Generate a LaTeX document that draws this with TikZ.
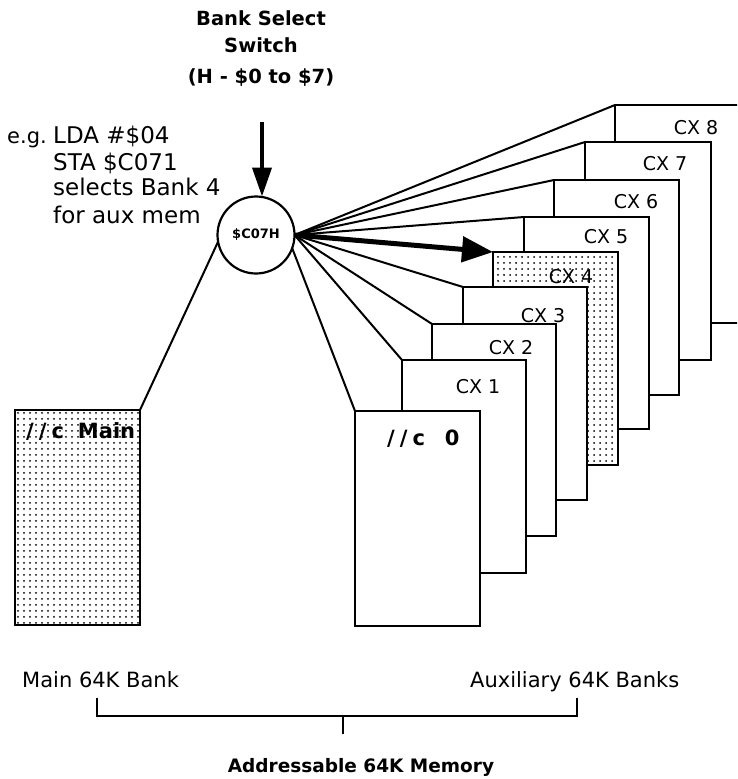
\documentclass[tikz,border=0pt]{standalone}
\usepackage{fontspec}
\setmainfont{DejaVu Sans}
\newfontfamily\chic{DejaVu Sans}
\usetikzlibrary{arrows.meta,patterns.meta,calc}
\begin{document}
\begin{tikzpicture}[x=1pt,y=-1pt,
  page/.style={draw, line width=2.5pt, fill=white, anchor=north west, inner sep=0pt, outer sep=0pt},
  dotpage/.style={draw, line width=2.5pt, preaction={fill=white}, pattern={Dots[distance=6pt,radius=1pt]}, anchor=north west, inner sep=0pt, outer sep=0pt},
  cxlab/.style={font=\fontsize{19}{19}\selectfont, inner sep=0pt, anchor=center},
  bigtitle/.style={font=\chic\bfseries\fontsize{19.5}{19.5}\selectfont, inner sep=0pt, anchor=base},
  boxtitle/.style={font=\chic\bfseries\fontsize{21}{21}\selectfont, inner sep=0pt, anchor=base west},
  note/.style={font=\fontsize{23}{23}\selectfont, inner sep=0pt, anchor=base west},
  banklab/.style={font=\fontsize{21}{21}\selectfont, inner sep=0pt, anchor=base west},
  fan/.style={line width=2pt},
  bigarrow/.style={line width=5pt, -{Triangle[length=31pt,width=25pt]}},
  toparrow/.style={line width=4pt, -{Triangle[length=29pt,width=19pt]}},
  bracket/.style={line width=2.2pt}]
\useasboundingbox (0,0) rectangle (737,779);
\clip (0,0) rectangle (737,779);

% title
\node[bigtitle] (t1) at (261,25) {Bank Select};
\node[bigtitle] (t2) at (261,52) {Switch};
\node[bigtitle] (t3) at (261,83) {(H - \$0 to \$7)};

% example text
\node[note, font=\fontsize{21}{21}\selectfont] (eg) at (7,143) {e.g.};
\node[note] (n1) at (53,143) {LDA \#\$04};
\node[note] (n2) at (53,170) {STA \$C071};
\node[note] (n3) at (53,195) {selects Bank 4};
\node[note] (n4) at (53,223) {for aux mem};

% switch
\node[circle, draw, line width=2.2pt, minimum size=77pt, inner sep=0pt, outer sep=0pt,
      font=\chic\bfseries\fontsize{13}{13}\selectfont] (sw) at (256,235) {\$C07H};
\coordinate (atop) at (262,122);
\draw[toparrow] (atop) -- (atop |- sw.north);

% pages (back to front)
\node[page, minimum width=126pt, minimum height=218pt] (cx8) at (615,105) {};
\node[page, minimum width=126pt, minimum height=218pt] (cx7) at (585,142) {};
\node[page, minimum width=125pt, minimum height=215pt] (cx6) at (554,180) {};
\node[page, minimum width=125pt, minimum height=212pt] (cx5) at (524,217) {};
\node[dotpage, minimum width=125pt, minimum height=213pt] (cx4) at (493,252) {};
\node[page, minimum width=124pt, minimum height=213pt] (cx3) at (463,287) {};
\node[page, minimum width=124pt, minimum height=212pt] (cx2) at (432,324) {};
\node[page, minimum width=124pt, minimum height=213pt] (cx1) at (402,360) {};
\node[page, minimum width=125pt, minimum height=215pt] (cx0) at (355,411) {};
\node[dotpage, minimum width=125pt, minimum height=215pt] (main) at (15,410) {};

% labels
\node[cxlab] (l8) at (696,128) {CX 8};
\node[cxlab] (l7) at (665,164) {CX 7};
\node[cxlab] (l6) at (636,202) {CX 6};
\node[cxlab] (l5) at (606,237) {CX 5};
\node[cxlab] (l4) at (571,277) {CX 4};
\node[cxlab] (l3) at (543,316) {CX 3};
\node[cxlab] (l2) at (511,348) {CX 2};
\node[cxlab] (l1) at (478,387) {CX 1};
\node[boxtitle] (l0) at (387,445) {/\kern5pt/\kern5pt c\kern20pt 0};
\node[boxtitle] (lm) at (26,438) {/\kern5pt/\kern5pt c\kern14pt Main};

% fan connectors
\draw[fan] (sw.190) -- (main.north east);
\draw[fan] (sw.-20) -- (cx0.north west);
\foreach \b in {cx1,cx2,cx3,cx5,cx6,cx7,cx8}
  \draw[fan] (sw.east) -- (\b.north west);
\draw[bigarrow] (sw.east) -- (cx4.north west);

% bottom labels and bracket
\node[banklab] (mb) at (22,687) {Main 64K Bank};
\node[banklab] (ab) at (470,687) {Auxiliary 64K Banks};
\coordinate (bl) at (97,698);
\coordinate (br) at (577,698);
\coordinate (bm) at (343,716);
\coordinate (bt) at (343,734);
\draw[bracket] (bl) -- (bl |- bm) -- (br |- bm) -- (br);
\draw[bracket] (bm) -- (bt);
\node[bigtitle, font=\chic\bfseries\fontsize{18.5}{18.5}\selectfont] (mem) at (361,772) {Addressable 64K Memory};
\end{tikzpicture}
\end{document}
